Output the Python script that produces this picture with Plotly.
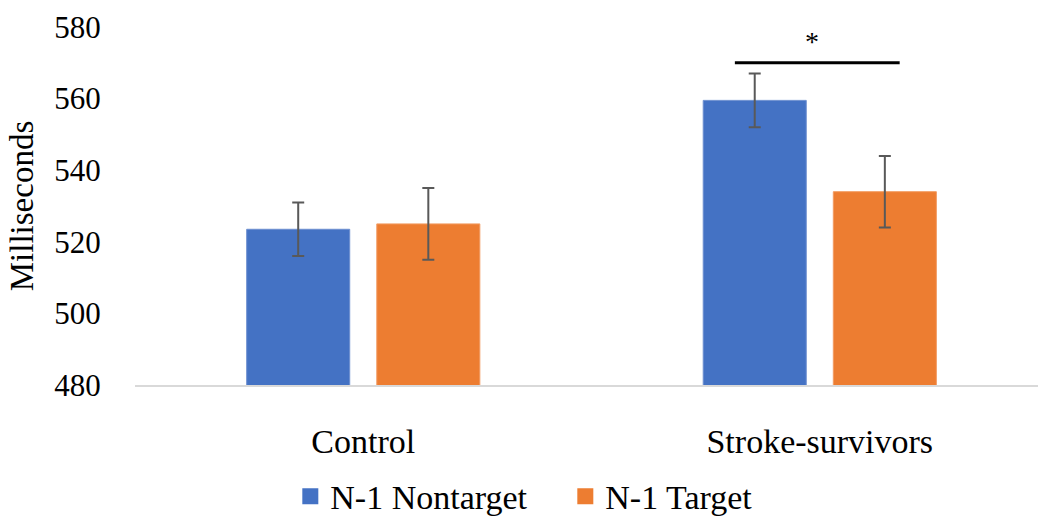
import plotly.graph_objects as go

groups = ["Control", "Stroke-survivors"]
nontarget = [523.5, 559.5]
nontarget_err = [7.5, 7.5]
target = [525.0, 534.0]
target_err = [10.0, 10.0]
series_names = ["N-1 Nontarget", "N-1 Target"]
colors = ["#4472C4", "#ED7D31"]
y_ticks = [480, 500, 520, 540, 560, 580]

sig_level = 570
sig_label = "*"

FONT = "Liberation Serif"
err_style = dict(type="data", thickness=2, width=6, color="#595959")

fig = go.Figure()
fig.add_trace(go.Bar(x=groups, y=nontarget, name=series_names[0], showlegend=False,
                     marker=dict(color=colors[0], line=dict(width=1, color="#6E90D0")),
                     error_y=dict(array=nontarget_err, **err_style)))
fig.add_trace(go.Bar(x=groups, y=target, name=series_names[1], showlegend=False,
                     marker=dict(color=colors[1], line=dict(width=1, color="#F29C63")),
                     error_y=dict(array=target_err, **err_style)))
# legend entries with larger square swatches
for name, col in zip(series_names, colors):
    fig.add_trace(go.Scatter(x=[None], y=[None], mode="markers", name=name,
                             marker=dict(symbol="square", size=20, color=col)))

# significance bar over Stroke-survivors
fig.add_shape(type="line", xref="x", yref="y", x0=0.814, x1=1.175,
              y0=sig_level, y1=sig_level, line=dict(color="black", width=3))
fig.add_annotation(x=1, y=sig_level, xref="x", yref="y", text=sig_label,
                   showarrow=False, yanchor="bottom", yshift=4, xshift=-8,
                   font=dict(size=28, color="black", family=FONT))

fig.update_layout(
    width=1038, height=519,
    margin=dict(l=135, r=0, t=27, b=134),
    paper_bgcolor="white", plot_bgcolor="white",
    font=dict(family=FONT, size=30, color="black"),
    barmode="group", bargap=0.43, bargroupgap=0.208,
    showlegend=True,
    legend=dict(orientation="h", x=0.172, xanchor="left", y=0.099, yref="container",
                yanchor="top", font=dict(size=34, family=FONT), itemwidth=30,
                entrywidth=230, entrywidthmode="pixels",
                itemsizing="trace", traceorder="normal"),
)
fig.update_xaxes(range=[-0.5, 1.478], showgrid=False, showline=True,
                 linecolor="#D9D9D9", linewidth=2, ticks="outside", ticklen=25,
                 tickcolor="rgba(0,0,0,0)", tickfont=dict(size=34, family=FONT))
fig.update_yaxes(range=[480, 580], tickvals=y_ticks, showgrid=False, zeroline=False,
                 ticks="outside", ticklen=27, tickcolor="rgba(0,0,0,0)",
                 tickfont=dict(size=31, family=FONT),
                 title=dict(text="Milliseconds", font=dict(size=33, family=FONT), standoff=10))

fig.write_html("out.html")
